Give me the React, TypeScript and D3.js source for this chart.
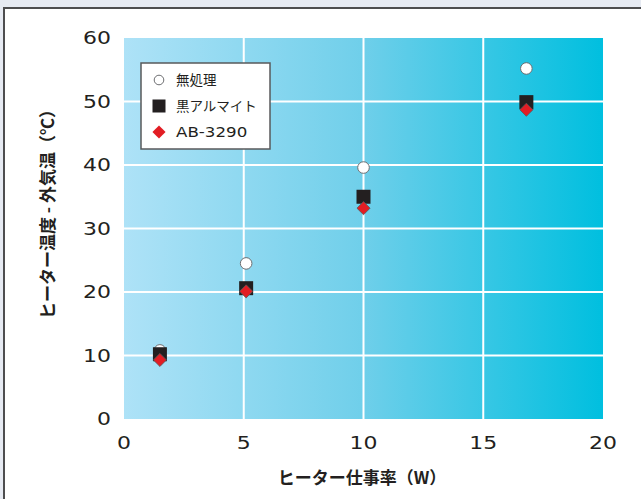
import * as d3 from "d3";

const WIDTH = 641;
const HEIGHT = 499;

const power = [1.5, 5.1, 10.0, 16.8];
const untreated = [10.8, 24.5, 39.6, 55.2];
const blackAlumite = [10.2, 20.6, 35.0, 49.9];
const ab3290 = [9.3, 20.1, 33.2, 48.7];

const xTicks = [0, 5, 10, 15, 20];
const yTicks = [0, 10, 20, 30, 40, 50, 60];

const legendLabels = ["無処理", "黒アルマイト", "AB-3290"];

const margin = { top: 38, right: 38, bottom: 80, left: 124 };

const NUM_FONT = "'DejaVu Sans', 'Noto Sans CJK JP', sans-serif";
const JP_FONT = "'Noto Sans CJK JP', 'DejaVu Sans', sans-serif";
const INK = "#231f20";

export default function App() {
  const x = d3.scaleLinear().domain([0, 20]).range([margin.left, WIDTH - margin.right]);
  const y = d3.scaleLinear().domain([0, 60]).range([HEIGHT - margin.bottom, margin.top]);
  const [x0, x1] = x.range();
  const [y0, y1] = y.range();

  const diamond = d3.symbol(d3.symbolDiamond2, 110)();
  const square = d3.symbol(d3.symbolSquare, 196)();

  const pts = (vals: number[]) => power.map((p, i) => ({ px: x(p), py: y(vals[i]) }));

  return (
    <div style={{ position: "absolute", left: 0, top: 0 }}>
      <svg width={WIDTH} height={HEIGHT} style={{ display: "block" }}>
        <defs>
          <linearGradient id="bg" x1="0" x2="1" y1="0" y2="0">
            <stop offset="0%" stopColor="#aee2f7" />
            <stop offset="50%" stopColor="#6fcfea" />
            <stop offset="100%" stopColor="#00bfdf" />
          </linearGradient>
        </defs>

        {/* page background + frame */}
        <rect x={0} y={0} width={WIDTH} height={HEIGHT} fill="#e6eaf2" />
        <rect x={4} y={8} width={WIDTH + 10} height={HEIGHT + 10} fill="#fff" stroke="#4d4d4f" strokeWidth={2} />

        {/* plot area */}
        <rect x={x0} y={y1} width={x1 - x0} height={y0 - y1} fill="url(#bg)" />
        {xTicks.slice(1, -1).map((t) => (
          <line key={"gx" + t} x1={x(t)} x2={x(t)} y1={y1} y2={y0} stroke="#fff" strokeWidth={2} />
        ))}
        {yTicks.slice(1, -1).map((t) => (
          <line key={"gy" + t} x1={x0} x2={x1} y1={y(t)} y2={y(t)} stroke="#fff" strokeWidth={2} />
        ))}

        {/* tick labels (the original face is wider, so stretch horizontally) */}
        {yTicks.map((t) => (
          <g key={"ty" + t} transform={`translate(111,${y(t)}) scale(1.22,1)`}>
            <text dy="0.36em" textAnchor="end" fontFamily={NUM_FONT} fontSize={18} fill={INK}>{t}</text>
          </g>
        ))}
        {xTicks.map((t) => (
          <g key={"tx" + t} transform={`translate(${x(t)},449) scale(1.22,1)`}>
            <text textAnchor="middle" fontFamily={NUM_FONT} fontSize={18} fill={INK}>{t}</text>
          </g>
        ))}

        {/* axis titles */}
        <text x={362} y={484} textAnchor="middle" fontFamily={JP_FONT} fontSize={17}
          fontWeight="bold" fill={INK}>ヒーター仕事率（W）</text>
        <text transform="translate(54,210) rotate(-90)" textAnchor="middle" fontFamily={JP_FONT}
          fontSize={17} fontWeight="bold" fill={INK}>ヒーター温度 - 外気温（℃）</text>

        {/* markers */}
        {pts(untreated).map((d, i) => (
          <circle key={"c" + i} cx={d.px} cy={d.py} r={5.8} fill="#fff" stroke="#6d6e71" strokeWidth={1} />
        ))}
        {pts(blackAlumite).map((d, i) => (
          <path key={"s" + i} d={square!} transform={`translate(${d.px},${d.py})`} fill={INK} />
        ))}
        {pts(ab3290).map((d, i) => (
          <path key={"d" + i} d={diamond!} transform={`translate(${d.px},${d.py})`} fill="#e21d24"
            stroke="#58595b" strokeWidth={0.8} />
        ))}

        {/* legend */}
        <g transform="translate(141,63)">
          <rect width={129} height={86} fill="#fff" stroke="#58595b" strokeWidth={1.5} />
          {legendLabels.map((label, i) => {
            const ly = 17 + i * 26;
            return (
              <g key={label} transform={`translate(18,${ly})`}>
                {i === 0 && <circle r={4.8} fill="#fff" stroke="#6d6e71" strokeWidth={1} />}
                {i === 1 && <rect x={-6.5} y={-6.5} width={13} height={13} fill={INK} />}
                {i === 2 && <path d={d3.symbol(d3.symbolDiamond2, 110)()!} fill="#e21d24" />}
                {i === 2 ? (
                  <g transform="translate(17,0) scale(1.15,1)">
                    <text dy="0.36em" fontFamily={NUM_FONT} fontSize={14.5} fill={INK}>{label}</text>
                  </g>
                ) : (
                  <text x={17} dy="0.36em" fontFamily={JP_FONT} fontSize={13.5} fill={INK}>{label}</text>
                )}
              </g>
            );
          })}
        </g>
      </svg>
    </div>
  );
}
